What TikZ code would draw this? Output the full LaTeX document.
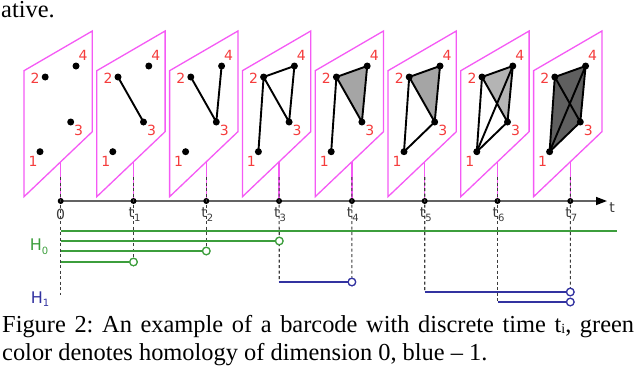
\documentclass[tikz,border=0pt]{standalone}
\usepackage{fontspec}
\setmainfont{Liberation Serif}
\newfontfamily\dejavu{DejaVu Sans}
\usetikzlibrary{arrows.meta}
\definecolor{panelmag}{RGB}{245,90,245}
\definecolor{labred}{RGB}{245,60,60}
\definecolor{hgreen}{RGB}{60,158,60}
\definecolor{hblue}{RGB}{50,50,160}
\definecolor{tickgray}{RGB}{60,60,60}
\definecolor{fillmid}{RGB}{165,165,165}
\definecolor{filllight}{RGB}{180,180,180}
\definecolor{filldark}{RGB}{95,95,95}
\newcommand{\lowsub}[1]{\raisebox{-3.5pt}{\fontsize{10}{10}\selectfont #1}}
\frenchspacing
\begin{document}
\begin{tikzpicture}[x=1pt,y=-1pt,
  panel/.style={draw=panelmag, fill=white, line width=1.3pt, line join=miter},
  stem/.style={draw=panelmag, line width=1.3pt},
  vert/.style={circle, fill=black, inner sep=0pt, minimum size=7pt},
  edge/.style={draw=black, line width=1.9pt},
  vlab/.style={text=labred, font=\dejavu\fontsize{14}{14}\selectfont, inner sep=0pt},
  tickdot/.style={circle, fill=black, inner sep=0pt, minimum size=6pt},
  ticklab/.style={text=tickgray, font=\dejavu\fontsize{14}{14}\selectfont, inner sep=0pt},
  guide/.style={draw=tickgray, dash pattern=on 3pt off 2.5pt, line width=1.1pt},
  hbar/.style={line width=2.1pt},
  endc/.style={circle, fill=white, line width=1.2pt, inner sep=0pt, minimum size=7.5pt},
  hlab/.style={inner sep=0pt, font=\dejavu\fontsize{16}{16}\selectfont},
  captxt/.style={anchor=base west, inner sep=0pt, font=\fontsize{24.4}{28}\selectfont},
]
\useasboundingbox (0,0) rectangle (640,367);

% caption text above (cut)
\node[captxt] (prev) at (1,17) {ative.};

% panels
\foreach \k in {0,...,7}{
  \pgfmathsetmacro{\tx}{60.7+72.8*\k}
  \coordinate (T\k) at (\tx,201);
  \coordinate (s\k) at (\tx,161.8);
  \draw[panel] (\tx-36.7,70.7) -- (\tx+31.6,31) -- (\tx+31.6,131.7) -- (\tx-36.7,196.7) -- cycle;
  \coordinate (p\k-1) at (\tx-20.7,151.7);
  \coordinate (p\k-2) at (\tx-15.5,77);
  \coordinate (p\k-3) at (\tx+10,122);
  \coordinate (p\k-4) at (\tx+15.3,66);
}

% fills
\fill[fillmid] (p4-2) -- (p4-3) -- (p4-4) -- cycle;
\fill[fillmid] (p5-2) -- (p5-3) -- (p5-4) -- cycle;
\fill[filllight] (p6-2) -- (p6-3) -- (p6-4) -- cycle;
\fill[filldark] (p7-1) -- (p7-2) -- (p7-4) -- (p7-3) -- cycle;

% edges
\draw[edge] (p1-2) -- (p1-3);
\draw[edge] (p2-2) -- (p2-3) (p2-3) -- (p2-4);
\foreach \k in {3,...,7}{
  \draw[edge] (p\k-1) -- (p\k-2) (p\k-2) -- (p\k-3) (p\k-2) -- (p\k-4) (p\k-3) -- (p\k-4);
}
\foreach \k in {5,6,7}{ \draw[edge] (p\k-1) -- (p\k-3); }
\foreach \k in {6,7}{ \draw[edge] (p\k-1) -- (p\k-4); }

% vertices and labels
\foreach \k in {0,...,7}{
  \node[vert] (v\k-1) at (p\k-1) {};
  \node[vert] (v\k-2) at (p\k-2) {};
  \node[vert] (v\k-3) at (p\k-3) {};
  \node[vert] (v\k-4) at (p\k-4) {};
  \node[vlab] (l\k-1) at ([shift={(-7,9.5)}]p\k-1) {1};
  \node[vlab] (l\k-2) at ([shift={(-10,1.3)}]p\k-2) {2};
  \node[vlab] (l\k-3) at ([shift={(8,8.5)}]p\k-3) {3};
  \node[vlab] (l\k-4) at ([shift={(7,-10.5)}]p\k-4) {4};
  \draw[stem] (s\k) -- (T\k);
}

% time axis
\coordinate (tend) at (607,201);
\draw[draw=tickgray!80, line width=1.5pt, -{Triangle[length=11pt,width=8pt,color=black]}] (T0) -- (tend);
\node[ticklab] (tlab) at (612,208) {t};
\foreach \k in {0,...,7}{ \node[tickdot] (d\k) at (T\k) {}; }
\node[ticklab] (n0) at (60.7,214.5) {0};
\foreach \k in {1,...,7}{
  \node[ticklab] (n\k) at ([shift={(1,1.5)}]T\k |- 0,213) {t\lowsub{\k}};
}

% guide coordinates
\foreach \k in {0,...,7}{ \coordinate (g\k) at ([yshift=24]T\k); }

% barcode end circles
\node[endc, draw=hgreen] (c2) at (279.3,241) {};
\node[endc, draw=hgreen] (c3) at (206.3,251) {};
\node[endc, draw=hgreen] (c4) at (133.5,262) {};
\node[endc, draw=hblue] (c5) at (351.9,282) {};
\node[endc, draw=hblue] (c6) at (570.3,292) {};
\node[endc, draw=hblue] (c7) at (570.3,302) {};

\coordinate (e0) at (60.7,295);
\coordinate (b1s) at (60.7,231);
\coordinate (b1e) at (616.7,231);
\coordinate (b2s) at (60.7,241);
\coordinate (b3s) at (60.7,251);
\coordinate (b4s) at (60.7,262);
\coordinate (b5s) at (279.3,282);
\coordinate (b6s) at (424.7,292);
\coordinate (b7s) at (497.5,302);

% dashed guides
\draw[guide] (g0) -- (e0);
\draw[guide] (g1) -- (c4);
\draw[guide] (g2) -- (c3);
\draw[guide] (g3) -- (b5s);
\draw[guide] (g4) -- (c5);
\draw[guide] (g5) -- (b6s);
\draw[guide] (g6) -- (b7s);
\draw[guide] (g7) -- (c7);

% bars
\draw[hbar, hgreen] (b1s) -- (b1e);
\draw[hbar, hgreen] (b2s) -- (c2);
\draw[hbar, hgreen] (b3s) -- (c3);
\draw[hbar, hgreen] (b4s) -- (c4);
\draw[hbar, hblue] (b5s) -- (c5);
\draw[hbar, hblue] (b6s) -- (c6);
\draw[hbar, hblue] (b7s) -- (c7);

% redraw circles on top
\foreach \c/\col in {c2/hgreen,c3/hgreen,c4/hgreen,c5/hblue,c6/hblue,c7/hblue}{
  \node[endc, draw=\col] at (\c) {};
}

% H labels
\node[hlab, text=hgreen] (H0) at (39,246.5) {H\lowsub{0}};
\node[hlab, text=hblue] (H1) at (40,299) {H\lowsub{1}};

% caption
\node[captxt] (cap1) at (2,332.7) {\makebox[632pt][s]{Figure 2: An example of a barcode with discrete time t\raisebox{-1pt}{\fontsize{14}{14}\selectfont i}, green}};
\node[captxt] (cap2) at (2,360.7) {color denotes homology of dimension 0, blue -- 1.};
\end{tikzpicture}
\end{document}
